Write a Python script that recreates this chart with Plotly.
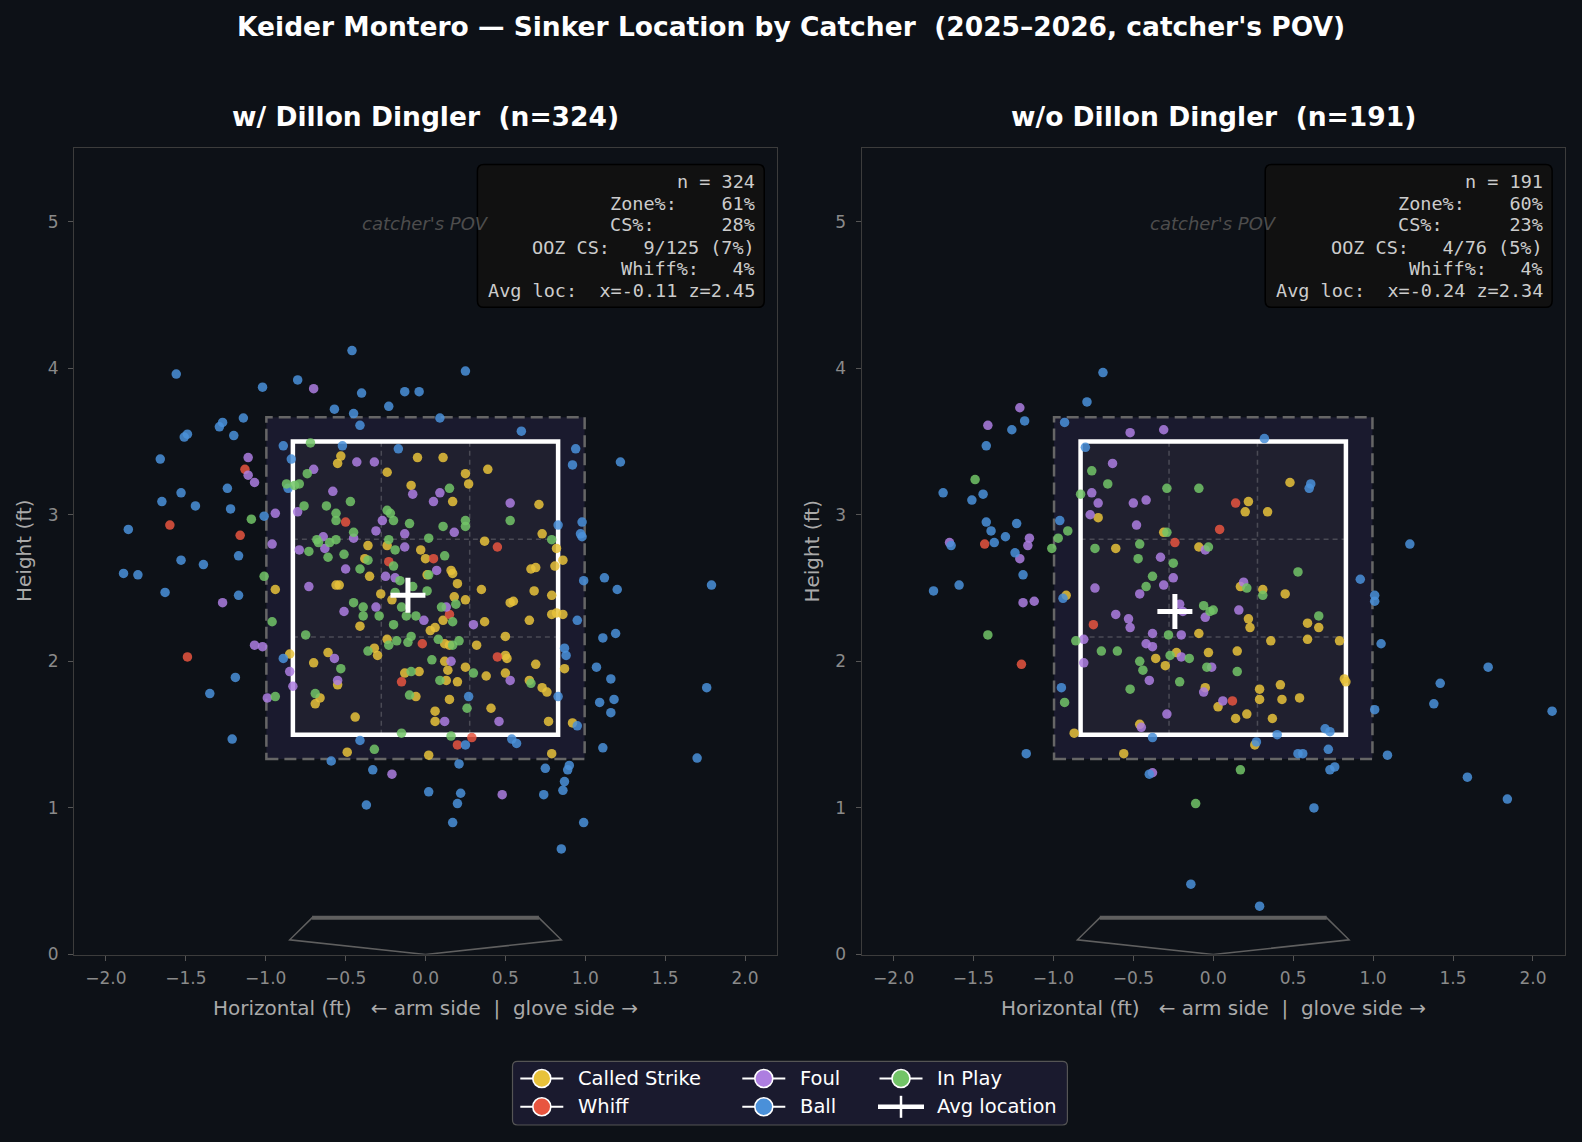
import plotly.graph_objects as go

W, H = 1582, 1142          # target picture (fractions are computed in this frame)
HL = 1152                  # page height: the capture squeezes ~1152 page px into 1142
BG = "#0d1117"
FONT = "DejaVu Sans"
MONO = "DejaVu Sans Mono"

# ---------------- data (plate_x ft, plate_z ft) ----------------
W_CALLED_STRIKE = [(-0.53,3.40),(-0.55,3.35),(-0.05,3.39),(-0.24,3.29),(-0.09,3.20),(-0.36,2.79),(-0.24,2.79),(-0.03,2.76),(0.00,2.70),(-0.38,2.70),(-0.35,2.58),(-0.56,2.52),(-0.54,2.52),(-0.94,2.49),(-0.28,2.46),(-0.21,2.42),(0.01,2.59),
    (0.11,3.39),(0.39,3.31),(0.25,3.28),(0.27,3.21),(0.17,3.09),(0.71,3.07),(0.73,2.87),(0.37,2.82),(0.82,2.77),(0.86,2.69),(0.81,2.65),(0.69,2.64),(0.66,2.63),(0.16,2.62),(0.17,2.60),(0.20,2.53),(0.35,2.49),(0.68,2.48),(0.79,2.45),(0.53,2.40),(0.55,2.41),(0.18,2.44),(0.25,2.42),(0.79,2.32),(0.82,2.33),(0.86,2.32),
    (-0.41,2.24),(-0.24,2.15),(-0.32,2.09),(-0.30,2.04),(-0.61,2.06),(-0.70,1.99),(-0.85,2.05),(-0.13,1.92),(-0.04,1.93),(-0.55,1.84),(-0.66,1.75),(-0.69,1.71),(-0.06,1.76),(-0.44,1.62),(-0.49,1.38),(0.03,2.21),(0.02,1.36),
    (0.37,2.27),(0.65,2.28),(0.11,2.28),(0.06,2.23),(0.50,2.17),(0.32,2.11),(0.15,2.11),(0.12,2.12),(0.50,2.04),(0.51,2.02),(0.69,1.98),(0.87,1.95),(0.12,2.00),(0.14,1.94),(0.25,1.96),(0.38,1.90),(0.50,1.92),(0.20,1.86),(0.13,1.87),(0.65,1.87),(0.73,1.82),(0.76,1.79),(0.15,1.74),(0.41,1.68),(0.06,1.66),(0.06,1.59),(0.77,1.59),(0.92,1.58),(0.79,1.37)]
W_WHIFF = [(-1.13,3.31),(-1.60,2.93),(-1.16,2.86),(-0.50,2.95),(-0.23,2.68),(0.45,2.78),(0.05,2.70),(0.15,2.32),(-1.49,2.03),(-0.02,2.12),(-0.15,1.86),(0.45,2.03),(0.29,1.48),(0.20,1.43)]
W_FOUL = [(-0.70,3.86),(-1.11,3.39),(-0.70,3.31),(-1.11,3.27),(-1.07,3.22),(-0.58,3.16),(-0.43,3.36),(-0.32,3.36),(-0.80,3.02),(-0.94,3.01),(-0.08,3.14),(-0.27,2.96),(-0.31,2.89),(-0.13,2.87),(-0.45,2.84),(-0.64,2.85),(-0.63,2.77),(-0.79,2.76),(-0.13,2.78),(-0.50,2.63),(-0.25,2.58),(-0.19,2.57),(-0.73,2.51),(-0.51,2.34),(-0.31,2.37),(-1.27,2.40),(-0.96,2.80),
    (0.09,3.15),(0.05,3.09),(0.53,3.08),(0.18,2.88),(0.07,2.62),(0.13,2.37),
    (-1.07,2.11),(-1.02,2.10),(-0.57,2.02),(-0.85,1.93),(-0.55,1.87),(-0.83,1.83),(-0.99,1.75),(-0.21,1.23),(-0.01,2.28),
    (0.30,2.25),(0.16,2.00),(0.53,1.87),(0.12,1.59),(0.46,1.59),(0.48,1.09)]
W_IN_PLAY = [(-0.72,3.49),(-0.74,3.28),(-0.87,3.21),(-0.82,3.20),(-0.79,3.21),(-0.76,3.06),(-0.62,3.06),(-0.47,3.09),(-0.56,3.01),(-0.56,2.96),(-0.24,3.03),(-0.22,3.01),(-0.20,2.96),(-0.10,2.94),(-0.45,2.88),(-0.23,2.83),(-0.19,2.76),(-0.68,2.83),(-0.67,2.81),(-0.60,2.81),(-0.56,2.83),(-0.73,2.75),(-0.61,2.71),(-0.51,2.73),(-0.41,2.63),(-0.36,2.69),(-0.20,2.65),(-0.16,2.55),(-0.08,2.51),(-0.19,2.47),(-0.15,2.37),(-0.45,2.40),(-0.39,2.37),(-0.39,2.31),(-0.29,2.31),(-0.12,2.31),(-0.06,2.31),(-1.09,2.97),(-1.01,2.58),(0.02,2.84),(0.02,2.59),(0.01,2.48),
    (0.15,3.18),(0.25,2.96),(0.25,2.92),(0.11,2.92),(0.53,2.96),(0.79,2.83),(0.12,2.72),(0.10,2.37),(0.19,2.39),
    (-0.96,2.27),(-0.75,2.18),(-0.20,2.25),(-0.09,2.17),(-0.11,2.13),(-0.18,2.14),(-0.23,2.11),(-0.36,2.07),(-0.53,1.95),(-0.69,1.78),(-0.09,1.93),(-0.10,1.77),(-0.94,1.76),(-0.32,1.40),(-0.15,1.51),(0.04,2.01),
    (0.17,2.27),(0.08,2.15),(0.21,2.14),(0.17,2.11),(0.09,1.87),(0.30,1.92),(0.66,1.85),(0.26,1.68),(0.16,1.49)]
W_BALL = [(-0.46,4.12),(-1.56,3.96),(-0.80,3.92),(-1.02,3.87),(-0.40,3.83),(-0.13,3.84),(-0.04,3.84),(-0.57,3.72),(-0.45,3.69),(-0.23,3.74),(-0.41,3.61),(-1.27,3.63),(-1.29,3.60),(-1.14,3.66),(-1.49,3.55),(-1.51,3.53),(-1.20,3.54),(-0.89,3.47),(-0.52,3.47),(-0.17,3.45),(-0.84,3.38),(-1.66,3.38),(-1.24,3.18),(-1.53,3.15),(-1.65,3.09),(-1.44,3.06),(-1.22,3.04),(-0.86,3.18),(-1.01,2.99),(-1.86,2.90),(-1.53,2.69),(-1.39,2.66),(-1.17,2.72),(-1.89,2.60),(-1.80,2.59),(-1.63,2.47),(-1.17,2.45),
    (0.25,3.98),(0.09,3.66),(0.60,3.57),(0.94,3.45),(0.92,3.34),(1.22,3.36),(0.83,2.93),(0.98,2.95),(0.97,2.87),(0.98,2.85),(0.99,2.55),(1.12,2.57),(1.20,2.49),(1.79,2.52),
    (-0.89,2.02),(-1.19,1.89),(-1.35,1.78),(-1.21,1.47),(-0.41,1.46),(-0.59,1.32),(-0.33,1.26),(-0.37,1.02),(0.02,1.11),
    (0.95,2.28),(1.11,2.16),(1.19,2.19),(0.87,2.09),(0.88,2.04),(1.07,1.96),(1.16,1.88),(1.76,1.82),(1.09,1.72),(1.18,1.74),(1.16,1.65),(0.83,1.76),(0.27,1.76),(0.95,1.56),(0.54,1.47),(0.57,1.44),(0.25,1.43),(1.11,1.41),(1.70,1.34),(0.21,1.30),(0.75,1.27),(0.90,1.29),(0.89,1.26),(0.87,1.18),(0.86,1.12),(0.74,1.09),(0.22,1.10),(0.20,1.03),(0.17,0.90),(0.99,0.90),(0.85,0.72)]

WO_CALLED_STRIKE = [(-0.72,2.98),(-0.31,2.88),(-0.61,2.77),(-0.09,2.78),(-0.92,2.45),
    (0.48,3.22),(0.22,3.09),(0.20,3.02),(0.34,3.02),(0.17,2.51),(0.31,2.49),(0.45,2.46),(0.22,2.29),
    (-0.36,2.02),(-0.30,1.97),(-0.23,2.06),(-0.09,2.19),(-0.03,2.06),(-0.05,1.82),(0.03,1.69),(-0.87,1.51),(-0.46,1.57),(-0.56,1.37),
    (0.23,2.23),(0.59,2.26),(0.66,2.23),(0.36,2.14),(0.59,2.15),(0.79,2.14),(0.15,2.07),(0.82,1.88),(0.83,1.86),(0.29,1.81),(0.42,1.84),(0.29,1.74),(0.43,1.74),(0.54,1.75),(0.21,1.64),(0.14,1.61),(0.37,1.61),(0.26,1.43)]
WO_WHIFF = [(-1.43,2.80),(-0.24,2.81),(0.04,2.90),(0.14,3.08),(-0.75,2.25),(-1.20,1.98),(0.12,1.73)]
WO_FOUL = [(-1.21,3.73),(-1.41,3.61),(-1.15,2.84),(-1.16,2.79),(-1.65,2.81),(-1.21,2.70),(-1.19,2.40),(-1.12,2.41),(-0.52,3.56),(-0.31,3.58),(-0.63,3.35),(-0.76,3.15),(-0.72,3.08),(-0.50,3.08),(-0.42,3.10),(-0.77,3.00),(-0.48,2.93),(-0.33,2.71),(-0.25,2.57),(-0.31,2.52),(-0.46,2.46),(-0.74,2.50),(-0.61,2.32),(-0.53,2.29),(-0.05,2.76),(-0.21,2.39),(-0.19,2.34),(-0.05,2.30),
    (0.19,2.54),(0.16,2.35),
    (-0.81,2.15),(-0.81,1.99),(-0.38,2.19),(-0.42,2.12),(-0.38,2.10),(-0.20,2.18),(-0.20,2.03),(-0.40,1.87),(-0.29,1.64),(-0.45,1.55),(-0.06,1.79),(-0.01,1.96),(-0.38,1.24),(-0.52,2.23),
    (0.06,1.73)]
WO_IN_PLAY = [(-1.49,3.24),(-0.91,2.89),(-0.97,2.84),(-1.01,2.77),(-0.83,3.14),(-0.76,3.30),(-0.66,3.21),(-0.29,3.18),(-0.09,3.18),(-0.29,2.88),(-0.74,2.77),(-0.46,2.80),(-0.47,2.70),(-0.25,2.67),(-0.38,2.58),(-0.42,2.51),(-0.03,2.78),(-0.06,2.38),(-0.02,2.34),(0.00,2.35),
    (0.53,2.61),(0.21,2.50),(0.31,2.45),(0.66,2.31),
    (-1.41,2.18),(-0.86,2.14),(-0.70,2.07),(-0.60,2.07),(-0.46,2.00),(-0.44,1.94),(-0.52,1.81),(-0.93,1.72),(-0.28,2.18),(-0.27,2.04),(-0.15,2.02),(-0.21,1.86),(-0.04,1.96),(-0.11,1.03),
    (0.15,1.93),(0.17,1.26)]
WO_BALL = [(-0.69,3.97),(-0.79,3.77),(-0.93,3.63),(-1.18,3.64),(-1.26,3.58),(-1.42,3.47),(-0.80,3.46),(-1.69,3.15),(-1.44,3.14),(-1.51,3.10),(-1.42,2.95),(-1.23,2.94),(-1.39,2.89),(-1.30,2.85),(-1.37,2.81),(-0.96,2.96),(-1.64,2.79),(-1.24,2.74),(-1.19,2.59),(-1.75,2.48),(-1.59,2.52),(-0.94,2.43),
    (0.32,3.52),(0.61,3.21),(0.60,3.18),(1.23,2.80),(0.92,2.56),(1.01,2.45),(1.01,2.41),
    (-0.95,1.82),(-1.17,1.37),(-0.38,1.48),(-0.40,1.23),(-0.14,0.48),
    (1.05,2.12),(1.72,1.96),(1.42,1.85),(1.38,1.71),(2.12,1.66),(1.01,1.67),(0.70,1.54),(0.73,1.52),(0.40,1.50),(0.27,1.45),(0.72,1.40),(0.53,1.37),(0.56,1.37),(1.09,1.36),(0.76,1.28),(0.73,1.26),(1.59,1.21),(1.84,1.06),(0.63,1.00),(0.29,0.33)]

W_AVG = (-0.11, 2.45)
WO_AVG = (-0.24, 2.34)

W_STATS = [("n = 324", ""), ("Zone%:", "61%"), ("CS%:", "28%"), ("OOZ CS:", "9/125 (7%)"), ("Whiff%:", "4%"), ("Avg loc:", "x=-0.11 z=2.45")]
WO_STATS = [("n = 191", ""), ("Zone%:", "60%"), ("CS%:", "23%"), ("OOZ CS:", "4/76 (5%)"), ("Whiff%:", "4%"), ("Avg loc:", "x=-0.24 z=2.34")]

OUTCOMES = ["Called Strike", "Whiff", "Foul", "Ball", "In Play"]
COLORS = {"Called Strike": "#e8c23a", "Whiff": "#e8553f", "Foul": "#ad7ee0",
          "Ball": "#4a90d9", "In Play": "#72c467"}

PANELS = [
    dict(title="w/ Dillon Dingler  (n=324)", xa="x", ya="y",
         data={"Called Strike": W_CALLED_STRIKE, "Whiff": W_WHIFF, "Foul": W_FOUL, "Ball": W_BALL, "In Play": W_IN_PLAY},
         avg=W_AVG, stats=W_STATS),
    dict(title="w/o Dillon Dingler  (n=191)", xa="x2", ya="y2",
         data={"Called Strike": WO_CALLED_STRIKE, "Whiff": WO_WHIFF, "Foul": WO_FOUL, "Ball": WO_BALL, "In Play": WO_IN_PLAY},
         avg=WO_AVG, stats=WO_STATS),
]

X_TICKS = [-2.0, -1.5, -1.0, -0.5, 0.0, 0.5, 1.0, 1.5, 2.0]
Y_TICKS = [0, 1, 2, 3, 4, 5]

ZONE_HALF = 0.83
ZONE_BOT, ZONE_TOP = 1.5, 3.5
SHADOW = 0.166
PLATE = [(-0.71, 0.25), (0.71, 0.25), (0.85, 0.10), (0.0, 0.0), (-0.85, 0.10)]


def PX(v):
    return v / W


def PY(v):
    return 1 - v / H


# ---------------- figure ----------------
fig = go.Figure()
shapes, annos = [], []

X_DOM = [(PX(74), PX(777)), (PX(861.6), PX(1564.9))]
Y_DOM = (PY(954.5), PY(148.3))

NB = "\u00a0"

for i, p in enumerate(PANELS):
    xa, ya = p["xa"], p["ya"]
    for o in OUTCOMES:
        pts = p["data"][o]
        fig.add_trace(go.Scatter(
            x=[a for a, b in pts], y=[b for a, b in pts], mode="markers",
            xaxis=xa, yaxis=ya, showlegend=False, hoverinfo="skip",
            marker=dict(color=COLORS[o], size=9.5, opacity=0.85, line=dict(width=0))))
    fig.add_trace(go.Scatter(
        x=[p["avg"][0]], y=[p["avg"][1]], mode="markers", xaxis=xa, yaxis=ya,
        showlegend=False, hoverinfo="skip",
        marker=dict(symbol="cross-thin", size=25, color="white",
                    line=dict(color="white", width=5))))

    # shadow zone
    shapes.append(dict(type="rect", xref=xa, yref=ya, layer="below",
                       x0=-ZONE_HALF - SHADOW, x1=ZONE_HALF + SHADOW,
                       y0=ZONE_BOT - SHADOW, y1=ZONE_TOP + SHADOW,
                       fillcolor="#1a1a2e", line=dict(color="#666666", width=2.5, dash="12px,6px")))
    # zone fill
    shapes.append(dict(type="rect", xref=xa, yref=ya, layer="below",
                       x0=-ZONE_HALF, x1=ZONE_HALF, y0=ZONE_BOT, y1=ZONE_TOP,
                       fillcolor="#20202f", line=dict(width=0)))
    # zone grid
    third_x = 2 * ZONE_HALF / 3
    third_z = (ZONE_TOP - ZONE_BOT) / 3
    for k in (1, 2):
        gx = -ZONE_HALF + k * third_x
        shapes.append(dict(type="line", xref=xa, yref=ya, layer="below",
                           x0=gx, x1=gx, y0=ZONE_BOT, y1=ZONE_TOP,
                           line=dict(color="#4a4a55", width=1.5, dash="5px,4px")))
        gz = ZONE_BOT + k * third_z
        shapes.append(dict(type="line", xref=xa, yref=ya, layer="below",
                           x0=-ZONE_HALF, x1=ZONE_HALF, y0=gz, y1=gz,
                           line=dict(color="#4a4a55", width=1.5, dash="5px,4px")))
    # zone border
    shapes.append(dict(type="rect", xref=xa, yref=ya, layer="below",
                       x0=-ZONE_HALF, x1=ZONE_HALF, y0=ZONE_BOT, y1=ZONE_TOP,
                       line=dict(color="white", width=4.5)))
    # home plate
    path = "M " + " L ".join(f"{a},{b}" for a, b in PLATE) + " Z"
    shapes.append(dict(type="path", xref=xa, yref=ya, layer="below", path=path,
                       line=dict(color="#5f5f5f", width=1.5)))
    shapes.append(dict(type="line", xref=xa, yref=ya, layer="below",
                       x0=PLATE[0][0], x1=PLATE[1][0], y0=PLATE[0][1], y1=PLATE[1][1],
                       line=dict(color="#5f5f5f", width=4)))
    # stats box
    bx0, bx1, by0, by1 = 0.325, 2.12, 4.415, 5.39
    rx, ry = 0.04, 0.044
    bpath = (f"M {bx0+rx},{by0} L {bx1-rx},{by0} Q {bx1},{by0} {bx1},{by0+ry} "
             f"L {bx1},{by1-ry} Q {bx1},{by1} {bx1-rx},{by1} L {bx0+rx},{by1} "
             f"Q {bx0},{by1} {bx0},{by1-ry} L {bx0},{by0+ry} Q {bx0},{by0} {bx0+rx},{by0} Z")
    shapes.append(dict(type="path", xref=xa, yref=ya, layer="above", path=bpath,
                       fillcolor="#111111", line=dict(color="#000000", width=1.5)))
    line_y = [5.274, 5.126, 4.978, 4.826, 4.682, 4.527]
    for (lab, val), ly in zip(p["stats"], line_y):
        if val:
            txt = f"{lab:<10}{val}"
        else:
            txt = lab
        txt = txt.replace(" ", NB)
        annos.append(dict(xref=xa, yref=ya, x=2.075, y=ly, xanchor="right", yanchor="middle",
                          text=txt, showarrow=False,
                          font=dict(family=MONO, size=18.5, color="#cccccc")))
    # catcher's POV
    annos.append(dict(xref=xa, yref=ya, x=0.0, y=4.99, text="<i>catcher's POV</i>",
                      showarrow=False, xanchor="center", yanchor="middle",
                      font=dict(family=FONT, size=18, color="#4d4d4d")))
    # subplot title
    cx = (X_DOM[i][0] + X_DOM[i][1]) / 2
    annos.append(dict(xref="paper", yref="paper", x=cx, y=PY(117), text=f"<b>{p['title']}</b>",
                      showarrow=False, xanchor="center", yanchor="middle",
                      font=dict(family=FONT, size=26.5, color="white")))
    # axis titles
    annos.append(dict(xref="paper", yref="paper", x=cx, y=PY(1008),
                      text=f"Horizontal (ft){NB*3}← arm side{NB*2}|{NB*2}glove side →",
                      showarrow=False, xanchor="center", yanchor="middle",
                      font=dict(family=FONT, size=20, color="#aaaaaa")))
    annos.append(dict(xref="paper", yref="paper", x=(X_DOM[i][0] * W - 50) / W, y=PY(551),
                      text="Height (ft)", textangle=-90,
                      showarrow=False, xanchor="center", yanchor="middle",
                      font=dict(family=FONT, size=20, color="#aaaaaa")))

# main title
annos.append(dict(xref="paper", yref="paper", x=0.5, y=PY(27),
                  text="<b>Keider Montero — Sinker Location by Catcher  (2025–2026, catcher's POV)</b>",
                  showarrow=False, xanchor="center", yanchor="middle",
                  font=dict(family=FONT, size=26.5, color="white")))

# ---------------- manual legend ----------------
lx0, lx1, ly0, ly1, r = 512.5, 1067.4, 1061.4, 1125.0, 5
lpath = (f"M {PX(lx0+r)},{PY(ly0)} L {PX(lx1-r)},{PY(ly0)} Q {PX(lx1)},{PY(ly0)} {PX(lx1)},{PY(ly0+r)} "
         f"L {PX(lx1)},{PY(ly1-r)} Q {PX(lx1)},{PY(ly1)} {PX(lx1-r)},{PY(ly1)} L {PX(lx0+r)},{PY(ly1)} "
         f"Q {PX(lx0)},{PY(ly1)} {PX(lx0)},{PY(ly1-r)} L {PX(lx0)},{PY(ly0+r)} Q {PX(lx0)},{PY(ly0)} {PX(lx0+r)},{PY(ly0)} Z")
shapes.append(dict(type="path", xref="paper", yref="paper", path=lpath,
                   fillcolor="#1a1a2e", line=dict(color="#555555", width=1.2)))

LEG_COLS = [541.8, 763.8, 901.0]
LEG_ROWS = [1078.5, 1106.8]
LEG_ITEMS = [("Called Strike", 0, 0), ("Whiff", 0, 1), ("Foul", 1, 0), ("Ball", 1, 1), ("In Play", 2, 0)]
for name, c, rr in LEG_ITEMS:
    mx, my = LEG_COLS[c], LEG_ROWS[rr]
    shapes.append(dict(type="line", xref="paper", yref="paper",
                       x0=PX(mx - 21.5), x1=PX(mx + 21.5), y0=PY(my), y1=PY(my),
                       line=dict(color="white", width=2)))
    rad = 9
    shapes.append(dict(type="circle", xref="paper", yref="paper",
                       x0=PX(mx - rad), x1=PX(mx + rad), y0=PY(my + rad), y1=PY(my - rad),
                       fillcolor=COLORS[name], line=dict(color="white", width=1.6)))
    annos.append(dict(xref="paper", yref="paper", x=PX(mx + 34), y=PY(my), text=name,
                      showarrow=False, xanchor="left", yanchor="middle",
                      font=dict(family=FONT, size=19.5, color="white")))
# Avg location entry
mx, my = LEG_COLS[2], LEG_ROWS[1]
shapes.append(dict(type="line", xref="paper", yref="paper",
                   x0=PX(mx - 23), x1=PX(mx + 23), y0=PY(my), y1=PY(my),
                   line=dict(color="white", width=4.5)))
shapes.append(dict(type="line", xref="paper", yref="paper",
                   x0=PX(mx), x1=PX(mx), y0=PY(my - 11), y1=PY(my + 11),
                   line=dict(color="white", width=2.5)))
annos.append(dict(xref="paper", yref="paper", x=PX(mx + 34), y=PY(my), text="Avg location",
                  showarrow=False, xanchor="left", yanchor="middle",
                  font=dict(family=FONT, size=19.5, color="white")))

# ---------------- axes ----------------
xt_text = [f"{v:.1f}".replace("-", "\u2212") for v in X_TICKS]
axis_common = dict(showline=True, linecolor="#3c3c3c", linewidth=1, mirror=True,
                   ticks="outside", ticklen=5, tickwidth=1, tickcolor="#555555",
                   tickfont=dict(family=FONT, size=17, color="#8a8a8a"),
                   showgrid=False, zeroline=False)

layout_axes = {}
for i, (xa, ya) in enumerate([("xaxis", "yaxis"), ("xaxis2", "yaxis2")]):
    anchor_y = "y" if i == 0 else "y2"
    anchor_x = "x" if i == 0 else "x2"
    layout_axes[xa] = dict(axis_common, domain=list(X_DOM[i]), range=[-2.2, 2.2], anchor=anchor_y,
                           tickmode="array", tickvals=X_TICKS, ticktext=xt_text, ticklabelstandoff=3)
    layout_axes[ya] = dict(axis_common, domain=list(Y_DOM), range=[0, 5.5], anchor=anchor_x,
                           tickmode="array", tickvals=Y_TICKS, ticktext=[str(v) for v in Y_TICKS],
                           ticklabelstandoff=6)

fig.update_layout(
    width=W, height=HL, autosize=False, margin=dict(l=0, r=0, t=0, b=0),
    paper_bgcolor=BG, plot_bgcolor=BG, showlegend=False,
    shapes=shapes, annotations=annos, **layout_axes,
)

POST = ("document.documentElement.style.background='#0d1117';"
        "document.body.style.background='#0d1117';")
fig.write_html("out.html", config={"responsive": False, "displayModeBar": False}, post_script=POST)
